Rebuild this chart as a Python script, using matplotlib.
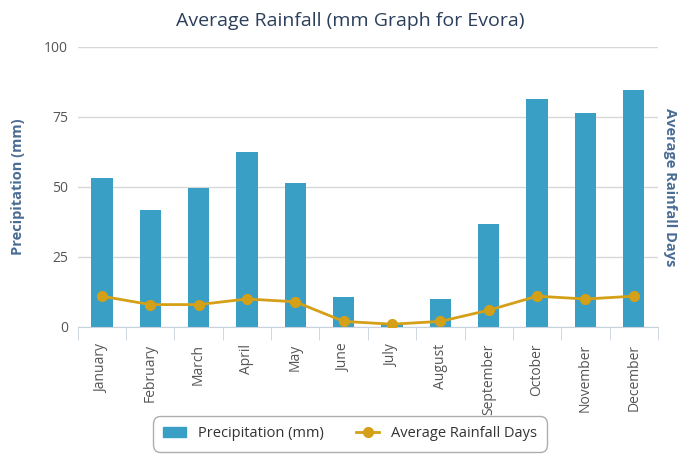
import matplotlib
matplotlib.use("Agg")
import matplotlib.pyplot as plt
import numpy as np
from matplotlib.patches import Patch
from matplotlib.lines import Line2D

plt.rcParams['font.family'] = ['Open Sans', 'DejaVu Sans']

months = ['January', 'February', 'March', 'April', 'May', 'June', 'July',
          'August', 'September', 'October', 'November', 'December']
precip = [53.2, 41.8, 49.6, 62.5, 51.4, 10.7, 0.8, 10.0, 36.8, 81.4, 76.4, 84.6]
rain_days = [11, 8, 8, 10, 9, 2, 1, 2, 6, 11, 10, 11]
yticks = [0, 25, 50, 75, 100]

bar_col = '#3a9fc4'
line_col = '#d4a017'
label_col = '#4a6c94'

fig = plt.figure(figsize=(7, 4.67), dpi=100)
ax = fig.add_axes([0.111, 0.2998, 0.829, 0.5996])
x = np.arange(len(months))

ax.bar(x, precip, width=0.44, color=bar_col, zorder=2)
ax.set_xlim(-0.5, len(months) - 0.5)
ax.set_ylim(0, 100)
ax.set_yticks(yticks)
ax.yaxis.grid(True, color='#d8d8d8', linewidth=1)
ax.set_axisbelow(True)
for s in ['left', 'right', 'top']:
    ax.spines[s].set_visible(False)
ax.spines['bottom'].set_color('#c8d3e0')
ax.tick_params(axis='y', length=0, labelsize=10, labelcolor='#555555', pad=7)
ax.set_xticks(x)
ax.set_xticklabels(months, rotation=90, fontsize=10, color='#555555')
ax.tick_params(axis='x', length=0, pad=12)
ax.set_xticks(np.arange(-0.5, len(months)), minor=True)
ax.tick_params(axis='x', which='minor', length=9, color='#c8d3e0')
ax.set_ylabel('Precipitation (mm)', fontsize=10.5, fontweight='bold', color=label_col, labelpad=14)

ax2 = ax.twinx()
ax2.set_ylim(0, 100)
ax2.plot(x, rain_days, color=line_col, linewidth=2, marker='o', markersize=7, zorder=3)
ax2.set_yticks([])
for s in ax2.spines.values():
    s.set_visible(False)
ax2.set_ylabel('Average Rainfall Days', fontsize=10.5, fontweight='bold', color=label_col,
               rotation=270, labelpad=14)

fig.suptitle('Average Rainfall (mm Graph for Evora)', x=0.5, y=0.975, fontsize=14, color='#2b3f5c')

handles = [Patch(color=bar_col), Line2D([0], [0], color=line_col, lw=2, marker='o', markersize=7)]
leg = fig.legend(handles, ['Precipitation (mm)', 'Average Rainfall Days'], loc='center',
                 bbox_to_anchor=(0.5, 0.0707), ncol=2, fontsize=10.5, frameon=True,
                 handlelength=1.6, columnspacing=2.2, borderpad=0.5)
leg.get_frame().set_edgecolor('#999999')
leg.get_frame().set_linewidth(1)
leg.get_frame().set_boxstyle('round,pad=0.2,rounding_size=0.5')
for t in leg.get_texts():
    t.set_color('#333333')

fig.savefig('out.png', dpi=100)
